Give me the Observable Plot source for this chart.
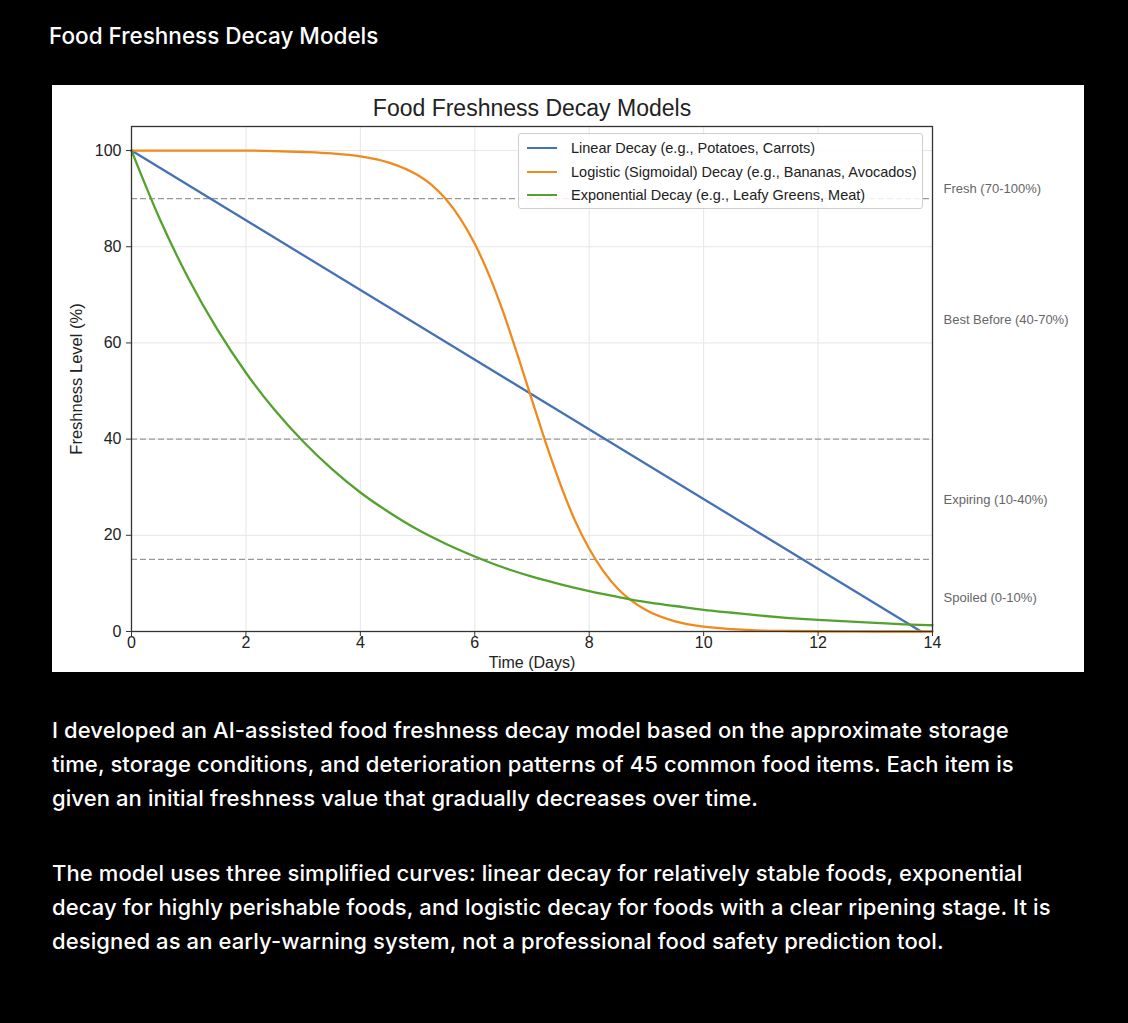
<!DOCTYPE html>
<html>
<head>
<meta charset="utf-8">
<script src="https://cdn.jsdelivr.net/npm/d3@7"></script>
<script src="https://cdn.jsdelivr.net/npm/@observablehq/plot@0.6"></script>
<style>
  html, body { margin: 0; padding: 0; background: #000; }
  body { width: 1128px; height: 1023px; position: relative; overflow: hidden; font-family: Inter, "Noto Sans", sans-serif; }
  #pageTitle { position: absolute; left: 49px; top: 22px; color: #fff; font-size: 22.5px; font-weight: 500; letter-spacing: 0; white-space: nowrap; }
  #panel { position: absolute; left: 52px; top: 85px; width: 1032px; height: 587px; background: #fff; }
  #legend { position: absolute; left: 466px; top: 48px; width: 403px; height: 74px; border: 1px solid #cfcfcf; border-radius: 3px; background: rgba(255,255,255,0.85); font-family: "Liberation Sans", Arial, sans-serif; font-size: 14.5px; color: #222; }
  .lg { position: absolute; left: 8px; height: 20px; display: flex; align-items: center; white-space: nowrap; }
  .sw { width: 30px; height: 0; border-top: 2.5px solid; margin-right: 14px; }
  #body { position: absolute; left: 52px; top: 713px; width: 1070px; color: #fff; font-size: 22px; line-height: 34px; font-weight: 500; letter-spacing: 0.1px; white-space: nowrap; }
  #body p { margin: 0 0 41px 0; }
</style>
</head>
<body>
<div id="pageTitle">Food Freshness Decay Models</div>
<div id="panel"></div>
<div id="body">
  <p>I developed an AI-assisted food freshness decay model based on the approximate storage<br>time, storage conditions, and deterioration patterns of 45 common food items. Each item is<br>given an initial freshness value that gradually decreases over time.</p>
  <p>The model uses three simplified curves: linear decay for relatively stable foods, exponential<br>decay for highly perishable foods, and logistic decay for foods with a clear ripening stage. It is<br>designed as an early-warning system, not a professional food safety prediction tool.</p>
</div>
<script>
// ---- data ----
const seriesNames = [
  "Linear Decay (e.g., Potatoes, Carrots)",
  "Logistic (Sigmoidal) Decay (e.g., Bananas, Avocados)",
  "Exponential Decay (e.g., Leafy Greens, Meat)"
];
const seriesColors = ["#4572B6", "#EF8A1F", "#54A22E"];

const linearDays = [0, 13.8];
const linearValues = [100, 0];

const logisticDays = [0, 0.5, 1, 1.5, 2, 2.5, 3, 3.5, 4, 4.5, 5, 5.25, 5.5, 5.75, 6, 6.25, 6.5, 6.75, 7, 7.25, 7.5, 7.75, 8, 8.25, 8.5, 8.75, 9, 9.5, 10, 10.5, 11, 11.5, 12, 13, 14];
const logisticValues = [100, 100, 100, 100, 100, 99.9, 99.7, 99.4, 98.8, 97.5, 94.9, 92.8, 89.8, 85.8, 80.6, 74.1, 66.3, 57.4, 48.1, 38.9, 30.5, 23.1, 17.2, 12.5, 8.9, 6.3, 4.4, 2.1, 1.0, 0.5, 0.2, 0.1, 0.05, 0, 0];

const expDays = [0, 0.5, 1, 1.5, 2, 2.5, 3, 3.5, 4, 4.5, 5, 5.5, 6, 6.5, 7, 7.5, 8, 8.5, 9, 9.5, 10, 10.5, 11, 11.5, 12, 12.5, 13, 13.5, 14];
const expValues = [100, 85.6, 73.3, 62.8, 53.8, 46.1, 39.5, 33.8, 28.9, 24.8, 21.2, 18.2, 15.6, 13.3, 11.4, 9.8, 8.4, 7.2, 6.1, 5.3, 4.5, 3.9, 3.3, 2.8, 2.4, 2.1, 1.8, 1.5, 1.3];

const thresholdValues = [90, 40, 15];
const zoneLabels = ["Fresh (70-100%)", "Best Before (40-70%)", "Expiring (10-40%)", "Spoiled (0-10%)"];
const zoneLabelY = [92, 64.8, 27.3, 7.1];

const xTicks = [0, 2, 4, 6, 8, 10, 12, 14];
const yTicks = [0, 20, 40, 60, 80, 100];

const chartTitle = "Food Freshness Decay Models";
const xLabel = "Time (Days)";
const yLabel = "Freshness Level (%)";

// ---- build tables ----
const toRows = (days, vals, s) => days.map((d, i) => ({t: d, v: vals[i], s}));
const linearRows = toRows(linearDays, linearValues, seriesNames[0]);
const logisticRows = toRows(logisticDays, logisticValues, seriesNames[1]);
const expRows = toRows(expDays, expValues, seriesNames[2]);
const zones = zoneLabels.map((l, i) => ({label: l, y: zoneLabelY[i]}));

const font = "'Liberation Sans', Arial, sans-serif";

const chart = Plot.plot({
  width: 1032,
  height: 587,
  marginLeft: 79,
  marginRight: 152,
  marginTop: 41,
  marginBottom: 41,
  style: {background: "#fff", fontFamily: font, color: "#222", overflow: "visible"},
  x: {domain: [0, 14], ticks: xTicks},
  y: {domain: [0, 105], ticks: yTicks},
  marks: [
    Plot.gridX(xTicks, {stroke: "#e6e6e6", strokeOpacity: 1}),
    Plot.gridY(yTicks, {stroke: "#e6e6e6", strokeOpacity: 1}),
    Plot.ruleY(thresholdValues, {x1: 0, x2: 14, stroke: "#999", strokeWidth: 1.2, strokeDasharray: "6,3"}),
    Plot.line(linearRows, {x: "t", y: "v", stroke: seriesColors[0], strokeWidth: 2.3}),
    Plot.line(logisticRows, {x: "t", y: "v", stroke: seriesColors[1], strokeWidth: 2.3, curve: "monotone-x"}),
    Plot.line(expRows, {x: "t", y: "v", stroke: seriesColors[2], strokeWidth: 2.3, curve: "monotone-x"}),
    Plot.frame({stroke: "#333", strokeWidth: 1.3}),
    Plot.axisX(xTicks, {tickSize: 5, tickPadding: 0, fontSize: 16, stroke: "#333", label: null, fill: "#222"}),
    Plot.axisY(yTicks, {tickSize: 5, tickPadding: 5, fontSize: 16, stroke: "#333", label: null, fill: "#222"}),
    Plot.text(zones, {x: 14, y: "y", text: "label", textAnchor: "start", dx: 11, fill: "#666", fontSize: 13}),
    Plot.text([chartTitle], {frameAnchor: "top", lineAnchor: "middle", dy: -18, fontSize: 23, fill: "#222"}),
    Plot.text([xLabel], {frameAnchor: "bottom", lineAnchor: "middle", dy: 31, fontSize: 16, fill: "#222"}),
    Plot.text([yLabel], {frameAnchor: "left", textAnchor: "middle", lineAnchor: "middle", dx: -55, rotate: -90, fontSize: 16.5, fill: "#222"})
  ]
});
const panel = document.getElementById("panel");
panel.appendChild(chart);

// legend (HTML overlay)
const legend = document.createElement("div");
legend.id = "legend";
seriesNames.forEach((name, i) => {
  const row = document.createElement("div");
  row.className = "lg";
  row.style.top = (4 + i * 23.5) + "px";
  const sw = document.createElement("span");
  sw.className = "sw";
  sw.style.borderColor = seriesColors[i];
  const tx = document.createElement("span");
  tx.textContent = name;
  row.appendChild(sw);
  row.appendChild(tx);
  legend.appendChild(row);
});
panel.appendChild(legend);
</script>
</body>
</html>
